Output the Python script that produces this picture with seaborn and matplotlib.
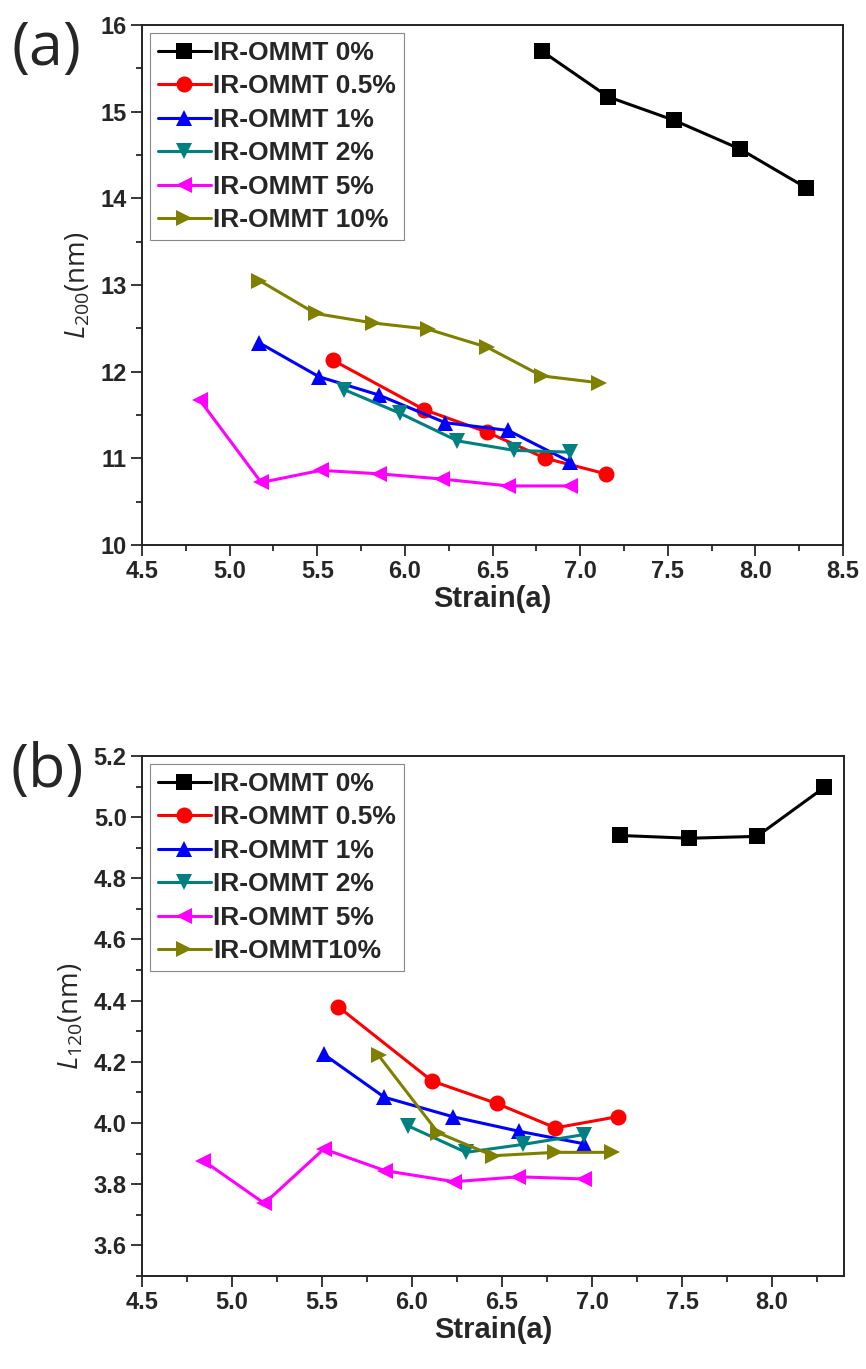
import pandas as pd
import numpy as np
import matplotlib
matplotlib.use('Agg')
import matplotlib.pyplot as plt
from matplotlib.ticker import MultipleLocator, FormatStrFormatter
import seaborn as sns

sns.set_style('ticks')
plt.rcParams['font.family'] = ['Liberation Sans', 'DejaVu Sans']
plt.rcParams['mathtext.fontset'] = 'custom'
plt.rcParams['mathtext.rm'] = 'Open Sans'
plt.rcParams['mathtext.it'] = 'Open Sans:italic'

# series names (panel b writes the last one without a space)
names_a = ['IR-OMMT 0%', 'IR-OMMT 0.5%', 'IR-OMMT 1%', 'IR-OMMT 2%', 'IR-OMMT 5%', 'IR-OMMT 10%']
names_b = ['IR-OMMT 0%', 'IR-OMMT 0.5%', 'IR-OMMT 1%', 'IR-OMMT 2%', 'IR-OMMT 5%', 'IR-OMMT10%']

colors = ['#000000', '#ff0000', '#0000ff', '#008080', '#ff00ff', '#808000']
markers = ['s', 'o', '^', 'v', '<', '>']

# panel (a): L200
strain_a_0 = [6.78, 7.16, 7.535, 7.91, 8.29]
l200_0 = [15.70, 15.17, 14.90, 14.57, 14.12]
strain_a_05 = [5.59, 6.11, 6.47, 6.80, 7.145]
l200_05 = [12.13, 11.56, 11.30, 11.00, 10.82]
strain_a_1 = [5.17, 5.51, 5.85, 6.23, 6.59, 6.94]
l200_1 = [12.33, 11.94, 11.73, 11.41, 11.32, 10.96]
strain_a_2 = [5.655, 5.97, 6.30, 6.625, 6.94]
l200_2 = [11.79, 11.52, 11.20, 11.09, 11.07]
strain_a_5 = [4.83, 5.18, 5.52, 5.85, 6.21, 6.59, 6.94]
l200_5 = [11.67, 10.72, 10.86, 10.82, 10.76, 10.68, 10.68]
strain_a_10 = [5.17, 5.49, 5.82, 6.13, 6.47, 6.78, 7.11]
l200_10 = [13.05, 12.67, 12.56, 12.49, 12.28, 11.95, 11.87]

# panel (b): L120
strain_b_0 = [7.157, 7.54, 7.916, 8.29]
l120_0 = [4.940, 4.931, 4.937, 5.097]
strain_b_05 = [5.59, 6.112, 6.47, 6.797, 7.146]
l120_05 = [4.38, 4.137, 4.064, 3.984, 4.021]
strain_b_1 = [5.509, 5.847, 6.23, 6.594, 6.955]
l120_1 = [4.225, 4.084, 4.020, 3.973, 3.932]
strain_b_2 = [5.98, 6.30, 6.617, 6.955]
l120_2 = [3.99, 3.904, 3.93, 3.962]
strain_b_5 = [4.84, 5.18, 5.51, 5.85, 6.235, 6.59, 6.953]
l120_5 = [3.877, 3.737, 3.915, 3.844, 3.808, 3.824, 3.817]
strain_b_10 = [5.814, 6.145, 6.451, 6.795, 7.113]
l120_10 = [4.221, 3.968, 3.893, 3.904, 3.904]


def long_df(names, xs, ys):
    rows = []
    for n, x, y in zip(names, xs, ys):
        rows.append(pd.DataFrame({'strain': x, 'L': y, 'sample': n}))
    return pd.concat(rows, ignore_index=True)


df_a = long_df(names_a,
               [strain_a_0, strain_a_05, strain_a_1, strain_a_2, strain_a_5, strain_a_10],
               [l200_0, l200_05, l200_1, l200_2, l200_5, l200_10])
df_b = long_df(names_b,
               [strain_b_0, strain_b_05, strain_b_1, strain_b_2, strain_b_5, strain_b_10],
               [l120_0, l120_05, l120_1, l120_2, l120_5, l120_10])

fig = plt.figure(figsize=(8.66, 13.69), dpi=100)
ax_a = fig.add_axes([0.164, 0.602, 0.8095, 0.3798])
ax_b = fig.add_axes([0.164, 0.068, 0.8106, 0.3798])

tick_font = {'family': 'Liberation Sans', 'weight': 'bold', 'size': 17}


def draw(ax, df, names):
    sns.lineplot(data=df, x='strain', y='L', hue='sample', style='sample',
                 hue_order=names, style_order=names,
                 palette=dict(zip(names, colors)), markers=dict(zip(names, markers)),
                 dashes=False, estimator=None, sort=False, ax=ax,
                 linewidth=2.2, markersize=11.5, markeredgewidth=0)
    sns.move_legend(ax, 'upper left', title=None, frameon=True, fancybox=False,
                    edgecolor='#888888', framealpha=1, borderaxespad=0.3,
                    handlelength=2.0, handletextpad=0.1, labelspacing=0.36,
                    borderpad=0.3,
                    prop={'family': 'Liberation Sans', 'weight': 'bold', 'size': 19})
    ax.get_legend().get_frame().set_linewidth(0.8)
    ax.set_xlabel('Strain(a)', fontdict={'family': 'Liberation Sans', 'weight': 'bold', 'size': 21},
                  labelpad=1)
    ax.xaxis.set_major_locator(MultipleLocator(0.5))
    ax.xaxis.set_minor_locator(MultipleLocator(0.25))
    ax.xaxis.set_major_formatter(FormatStrFormatter('%.1f'))
    ax.tick_params(which='major', direction='out', length=8, width=1.3, pad=3)
    ax.tick_params(which='minor', direction='out', length=4, width=1.3)
    ax.tick_params(top=False, right=False)
    for s in ax.spines.values():
        s.set_linewidth(1.4)
        s.set_color('#222222')


draw(ax_a, df_a, names_a)
ax_a.set_xlim(4.5, 8.5)
ax_a.set_ylim(10, 16)
ax_a.yaxis.set_major_locator(MultipleLocator(1))
ax_a.yaxis.set_minor_locator(MultipleLocator(0.5))
ax_a.set_ylabel(r'$\mathit{L}_{200}$(nm)', family='Open Sans', size=20, labelpad=6)

draw(ax_b, df_b, names_b)
ax_b.set_xlim(4.5, 8.4)
ax_b.set_ylim(3.5, 5.2)
ax_b.yaxis.set_major_locator(MultipleLocator(0.2))
ax_b.yaxis.set_minor_locator(MultipleLocator(0.1))
ax_b.yaxis.set_major_formatter(FormatStrFormatter('%.1f'))
ax_b.set_ylabel(r'$\mathit{L}_{120}$(nm)', family='Open Sans', size=20, labelpad=6)

for ax in (ax_a, ax_b):
    for lab in ax.get_xticklabels() + ax.get_yticklabels():
        lab.set_fontproperties(tick_font)

fig.text(0.054, 0.964, '(a)', family='Open Sans', size=44, ha='center', va='center')
fig.text(0.054, 0.437, '(b)', family='Open Sans', size=44, ha='center', va='center')

fig.savefig('out.png', dpi=100)
